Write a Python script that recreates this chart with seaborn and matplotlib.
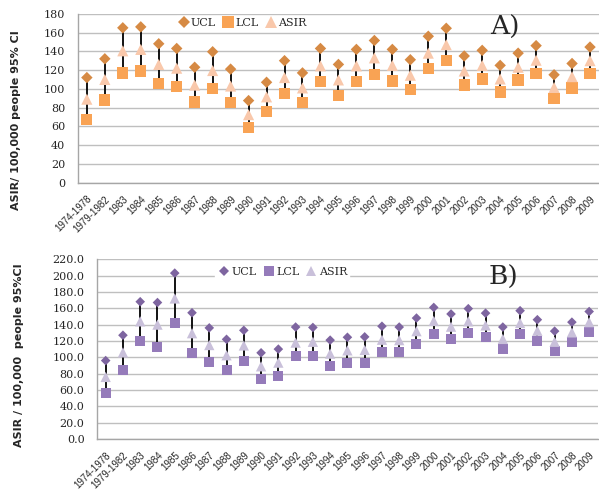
import numpy as np
import pandas as pd
import seaborn as sns
import matplotlib.pyplot as plt

# periods on the x axis
periods = ["1974-1978", "1979-1982"] + [str(y) for y in range(1983, 2010)]

# panel A
ucl_a = [112, 132, 165, 166, 148, 143, 123, 139.5, 121, 87.5, 107, 130, 117,
         143, 126, 142, 151.5, 142, 131, 156, 164.5, 135, 141, 125, 138, 146, 115, 127, 144.5]
asir_a = [89, 110, 140.5, 142, 126, 122, 104, 119.5, 103, 72.5, 91.5, 112, 101,
          124.5, 109.5, 124.5, 133, 125, 114.5, 138, 147, 119, 125, 110.5, 123, 130.5, 101.5, 113, 130]
lcl_a = [67.5, 88, 117, 119, 106, 102.5, 86, 100.5, 85.5, 58.5, 76, 95, 85.5,
         107.5, 93, 107.5, 115.5, 108.5, 99.5, 121.5, 130, 104, 110.5, 96.5, 109.5, 116.5, 89.5, 101, 116.5]

# panel B
ucl_b = [96, 127, 168, 167, 203, 154.5, 136, 122, 133, 105.5, 110, 137, 136.5,
         121, 124.5, 125, 138, 137, 148, 161, 153, 159.5, 154, 137, 157, 146, 132, 143, 156]
asir_b = [76, 106, 144, 140, 172, 129.5, 115, 102.5, 114.5, 89, 93.5, 118, 119,
          104.5, 108.5, 109, 121.5, 121, 132, 144.5, 137.5, 144, 139, 122.5, 142, 132.5, 119, 130.5, 143]
lcl_b = [56, 85, 120.5, 113, 142, 105.5, 94.5, 84.5, 95, 74, 77.5, 101, 102,
         89.5, 93.5, 93.5, 106, 106, 116, 128.5, 122, 129.5, 124.5, 110, 128.5, 120, 108, 118.5, 130.5]

pos = np.arange(len(periods))

sns.set_theme(style="whitegrid")
plt.rcParams["font.family"] = ["DejaVu Serif"]

fig = plt.figure(figsize=(5.99, 4.9), dpi=100)
ax_a = fig.add_axes([0.130, 0.627, 0.870, 0.345])
ax_b = fig.add_axes([0.162, 0.104, 0.836, 0.367])


def draw_panel(ax, ucl, asir, lcl, colors, sizes, ymax, step, fmt, leg_anchor):
    df = pd.DataFrame({
        "x": np.concatenate([pos, pos, pos]),
        "val": ucl + lcl + asir,
        "series": ["UCL"] * len(pos) + ["LCL"] * len(pos) + ["ASIR"] * len(pos),
    })
    ax.vlines(pos, lcl, ucl, color="black", lw=1.3, zorder=2)
    sns.scatterplot(data=df, x="x", y="val", hue="series", style="series", size="series",
                    hue_order=["UCL", "LCL", "ASIR"], palette=colors,
                    markers={"UCL": "D", "LCL": "s", "ASIR": "^"},
                    sizes=sizes, linewidth=0, ax=ax, zorder=3)
    ax.set_xlim(-0.5, len(pos) - 0.5)
    ax.set_ylim(0, ymax)
    ax.set_yticks(np.arange(0, ymax + 1, step))
    ax.set_yticklabels([fmt.format(v) for v in np.arange(0, ymax + 1, step)], fontsize=8,
                       color="#262626")
    ax.set_xticks(pos)
    ax.set_xticklabels(periods, rotation=45, ha="right", rotation_mode="anchor",
                       fontsize=7, family="Liberation Sans", color="#262626")
    ax.tick_params(axis="x", pad=2)
    ax.tick_params(axis="y", pad=3)
    ax.set_xlabel("")
    ax.set_ylabel("")
    ax.grid(axis="x", visible=False)
    ax.grid(axis="y", color="#BFBFBF", lw=1)
    ax.set_facecolor("white")
    for s in ["top", "right"]:
        ax.spines[s].set_visible(False)
    for s in ["left", "bottom"]:
        ax.spines[s].set_color("#A6A6A6")
        ax.spines[s].set_linewidth(1)
    leg = ax.legend(loc="upper left", bbox_to_anchor=leg_anchor, ncol=3, frameon=True,
                    fontsize=8, handletextpad=0.05, columnspacing=0.5, borderpad=0.2,
                    handlelength=1.2, markerscale=1.0)
    leg.get_frame().set_edgecolor("white")
    leg.get_frame().set_facecolor("white")
    leg.get_frame().set_alpha(1)


draw_panel(ax_a, ucl_a, asir_a, lcl_a,
           {"UCL": "#D68A44", "LCL": "#F9A354", "ASIR": "#F9C8AB"},
           {"UCL": 34, "LCL": 66, "ASIR": 64},
           180, 20, "{:.0f}", (0.175, 1.02))
draw_panel(ax_b, ucl_b, asir_b, lcl_b,
           {"UCL": "#7E65A0", "LCL": "#957BBA", "ASIR": "#C9C0DA"},
           {"UCL": 24, "LCL": 52, "ASIR": 55},
           220, 20, "{:.1f}", (0.225, 1.0))

fig.text(0.843, 0.945, "A)", fontsize=19, family="DejaVu Serif", ha="center", va="center")
fig.text(0.84, 0.433, "B)", fontsize=19, family="DejaVu Serif", ha="center", va="center")

fig.text(0.026, 0.755, "ASIR/ 100,000 people 95% CI", rotation=90, fontsize=8,
         fontweight="bold", family="Liberation Sans Narrow", ha="center", va="center")
fig.text(0.031, 0.275, "ASIR / 100,000  people 95%CI", rotation=90, fontsize=8,
         fontweight="bold", family="Liberation Sans Narrow", ha="center", va="center")

fig.savefig("out.png", dpi=100)
